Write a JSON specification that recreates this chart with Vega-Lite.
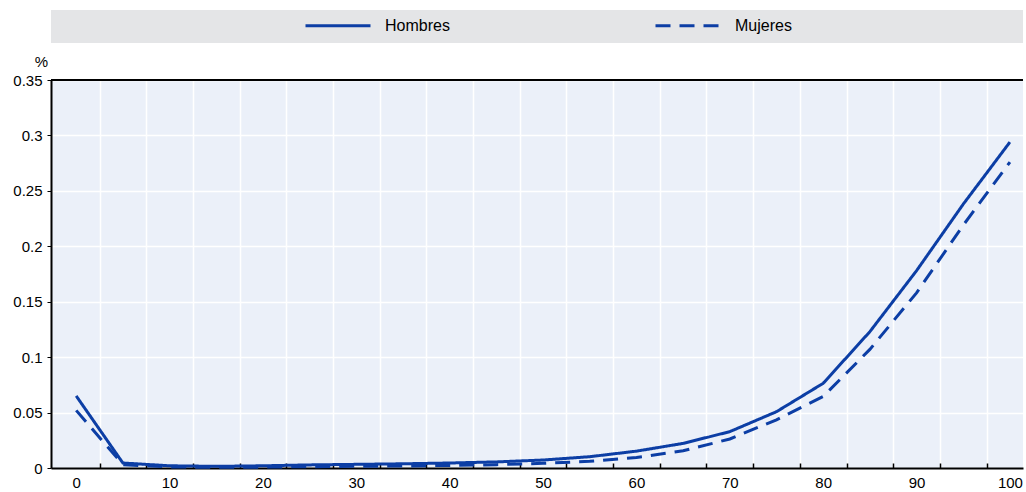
{
  "$schema": "https://vega.github.io/schema/vega-lite/v6.json",
  "padding": {"left": 12, "top": 10, "right": 0, "bottom": 0},
  "autosize": {"type": "pad"},
  "background": "#ffffff",
  "bounds": "flush",
  "spacing": 37,
  "config": {
    "font": "Liberation Sans",
    "axis": {"labelFont": "Liberation Sans", "labelFontSize": 15, "labelColor": "#000000", "titleFont": "Liberation Sans", "titleColor": "#000000"},
    "legend": {"labelFont": "Liberation Sans"}
  },
  "vconcat": [
    {
      "data": {"values": [{}]},
      "width": 972,
      "height": 33,
      "view": {"fill": "#e4e5e7", "stroke": null},
      "mark": {"type": "text"},
      "encoding": {"text": {"value": ""}}
    },
    {
      "width": 972,
      "height": 388,
      "view": {"fill": "#ebf0f9", "stroke": null},
      "data": {"values": [
        {"edad": 0, "sexo": "Hombres", "tasa": 0.065},
        {"edad": 5, "sexo": "Hombres", "tasa": 0.0045},
        {"edad": 10, "sexo": "Hombres", "tasa": 0.002},
        {"edad": 15, "sexo": "Hombres", "tasa": 0.0015},
        {"edad": 20, "sexo": "Hombres", "tasa": 0.002},
        {"edad": 25, "sexo": "Hombres", "tasa": 0.0028},
        {"edad": 30, "sexo": "Hombres", "tasa": 0.0033},
        {"edad": 35, "sexo": "Hombres", "tasa": 0.0038},
        {"edad": 40, "sexo": "Hombres", "tasa": 0.0045},
        {"edad": 45, "sexo": "Hombres", "tasa": 0.0055},
        {"edad": 50, "sexo": "Hombres", "tasa": 0.0072},
        {"edad": 55, "sexo": "Hombres", "tasa": 0.0102},
        {"edad": 60, "sexo": "Hombres", "tasa": 0.0152},
        {"edad": 65, "sexo": "Hombres", "tasa": 0.0222},
        {"edad": 70, "sexo": "Hombres", "tasa": 0.0328},
        {"edad": 75, "sexo": "Hombres", "tasa": 0.0508},
        {"edad": 80, "sexo": "Hombres", "tasa": 0.0764},
        {"edad": 85, "sexo": "Hombres", "tasa": 0.123},
        {"edad": 90, "sexo": "Hombres", "tasa": 0.178},
        {"edad": 95, "sexo": "Hombres", "tasa": 0.238},
        {"edad": 100, "sexo": "Hombres", "tasa": 0.294},
        {"edad": 0, "sexo": "Mujeres", "tasa": 0.052},
        {"edad": 5, "sexo": "Mujeres", "tasa": 0.003},
        {"edad": 10, "sexo": "Mujeres", "tasa": 0.001},
        {"edad": 15, "sexo": "Mujeres", "tasa": 0.0006},
        {"edad": 20, "sexo": "Mujeres", "tasa": 0.0008},
        {"edad": 25, "sexo": "Mujeres", "tasa": 0.0012},
        {"edad": 30, "sexo": "Mujeres", "tasa": 0.0015},
        {"edad": 35, "sexo": "Mujeres", "tasa": 0.0018},
        {"edad": 40, "sexo": "Mujeres", "tasa": 0.0023},
        {"edad": 45, "sexo": "Mujeres", "tasa": 0.003},
        {"edad": 50, "sexo": "Mujeres", "tasa": 0.0042},
        {"edad": 55, "sexo": "Mujeres", "tasa": 0.006},
        {"edad": 60, "sexo": "Mujeres", "tasa": 0.0095},
        {"edad": 65, "sexo": "Mujeres", "tasa": 0.0155},
        {"edad": 70, "sexo": "Mujeres", "tasa": 0.0262},
        {"edad": 75, "sexo": "Mujeres", "tasa": 0.0435},
        {"edad": 80, "sexo": "Mujeres", "tasa": 0.0645},
        {"edad": 85, "sexo": "Mujeres", "tasa": 0.107},
        {"edad": 90, "sexo": "Mujeres", "tasa": 0.158},
        {"edad": 95, "sexo": "Mujeres", "tasa": 0.219},
        {"edad": 100, "sexo": "Mujeres", "tasa": 0.276}
      ]},
      "layer": [
        {
          "data": {"values": [{}]},
          "mark": {"type": "rule", "color": "#000000", "strokeWidth": 2},
          "encoding": {
            "x": {"datum": -2.7, "type": "quantitative",
              "scale": {"domain": [-2.7, 101.4], "nice": false, "zero": false},
              "axis": {"orient": "bottom", "values": [2.5, 7.5, 12.5, 17.5, 22.5, 27.5, 32.5, 37.5, 42.5, 47.5, 52.5, 57.5, 62.5, 67.5, 72.5, 77.5, 82.5, 87.5, 92.5, 97.5],
                "grid": true, "gridColor": "#ffffff", "gridWidth": 1.5,
                "labels": false, "ticks": true, "tickSize": -5, "tickColor": "#000000", "tickWidth": 1.5,
                "domain": true, "domainColor": "#000000", "domainWidth": 2, "title": null}},
            "x2": {"datum": 101.4},
            "y": {"datum": 0.35, "type": "quantitative", "scale": {"domain": [0, 0.35], "nice": false, "zero": true}}
          }
        },
        {
          "mark": {"type": "line", "color": "#0c3ea5", "strokeWidth": 3},
          "encoding": {
            "x": {"field": "edad", "type": "quantitative",
              "scale": {"domain": [-2.7, 101.4], "nice": false, "zero": false},
              "axis": {"orient": "bottom", "values": [0, 10, 20, 30, 40, 50, 60, 70, 80, 90, 100],
                "grid": false, "ticks": false, "domain": false, "labelPadding": 7, "labelFontSize": 15, "title": null}},
            "y": {"field": "tasa", "type": "quantitative",
              "scale": {"domain": [0, 0.35], "nice": false, "zero": true},
              "axis": {"values": [0, 0.05, 0.1, 0.15, 0.2, 0.25, 0.3, 0.35], "format": "~g",
                "title": "%", "titleAngle": 0, "titleX": -10, "titleY": -14, "titleAlign": "center", "titleBaseline": "alphabetic",
                "titleFontSize": 15, "titleFontWeight": "normal",
                "grid": true, "gridColor": "#ffffff", "gridWidth": 1.5,
                "domainColor": "#000000", "domainWidth": 2, "tickColor": "#000000", "tickSize": 4, "labelPadding": 5, "labelFontSize": 15}},
            "strokeDash": {"field": "sexo", "type": "nominal",
              "scale": {"domain": ["Hombres", "Mujeres"], "range": [[1, 0], [15, 9]]},
              "legend": {"orient": "none", "legendX": 277.5, "legendY": 6, "direction": "horizontal", "title": null,
                "padding": 0, "columnPadding": 199, "symbolType": "M-4.0625,0H4.0625", "symbolSize": 256, "symbolStrokeWidth": 3,
                "symbolStrokeColor": "#0c3ea5", "labelFontSize": 16, "labelOffset": 37.5, "labelColor": "#000000"}}
          }
        }
      ],
      "resolve": {"axis": {"x": "independent"}}
    }
  ]
}
